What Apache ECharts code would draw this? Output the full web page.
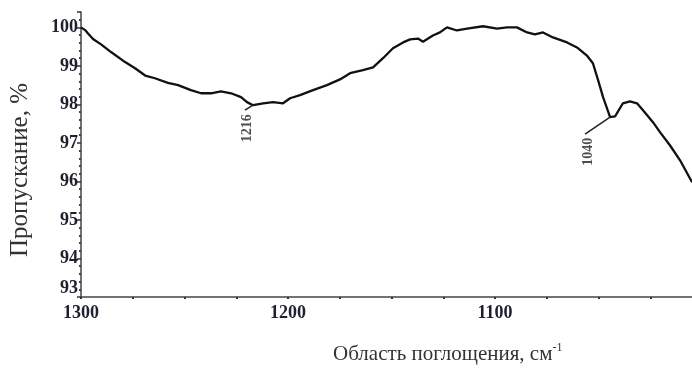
<!DOCTYPE html>
<html><head><meta charset="utf-8">
<script src="https://cdn.jsdelivr.net/npm/echarts@6/dist/echarts.min.js"></script>
<style>html,body{margin:0;padding:0;background:#fff}#c{width:692px;height:371px}</style>
</head><body><div id="c"></div>
<script>
var wavenumbers = [1300,1298,1296.6,1294.2,1290.3,1285.5,1278.7,1273.9,1269,1264.3,1258,1253.1,1246.9,1242,1237.2,1232.4,1227.5,1222.7,1219.8,1216.9,1212,1207.2,1202.4,1199,1194.2,1187.9,1181.2,1174.9,1170,1163.8,1158.9,1154.1,1149.3,1144.4,1141,1137.2,1134.8,1130,1126.6,1123.2,1118.4,1113.5,1105.8,1099,1094.2,1089.4,1084.5,1080.7,1076.8,1072,1065.2,1060.4,1055.6,1052.7,1050.2,1047.8,1044.4,1042,1038.2,1034.8,1031.4,1028.5,1023.7,1020.3,1015.5,1010.6,1004.8];
var transmittance = [100,99.93,99.84,99.7,99.56,99.36,99.1,98.94,98.75,98.68,98.56,98.5,98.37,98.29,98.29,98.34,98.29,98.19,98.06,97.98,98.03,98.06,98.03,98.16,98.24,98.37,98.5,98.65,98.81,98.89,98.96,99.2,99.46,99.61,99.69,99.71,99.63,99.79,99.87,100,99.92,99.97,100.03,99.97,100,100,99.87,99.82,99.87,99.74,99.61,99.48,99.27,99.07,98.63,98.19,97.67,97.69,98.03,98.08,98.03,97.85,97.54,97.28,96.94,96.55,95.98];
var yTicks = [93,94,95,96,97,98,99,100];
var xTickLabels = [1300,1200,1100];
var peakNames = ['1216','1040'];
var peakPos = [[1216.9,97.98],[1044.4,97.67]];
var leaderEnd = [[1220.8,97.85],[1056.5,97.23]];
var labelPos = [[1219.8,97.38],[1055.0,96.77]];

var serif = '"Liberation Serif","DejaVu Serif",serif';
var chart = echarts.init(document.getElementById('c'));
var leaders = peakPos.map(function(p,i){ return [{coord:p},{coord:leaderEnd[i]}]; });
chart.setOption({
  animation:false,
  grid:{left:81, right:-10, top:12, bottom:74, outerBoundsMode:'none', containLabel:false},
  xAxis:{type:'value', inverse:true, min:1000, max:1300, interval:25,
    axisLine:{lineStyle:{color:'#444', width:1.5}},
    axisTick:{show:true, length:2, lineStyle:{color:'#333', width:2}},
    splitLine:{show:false},
    axisLabel:{margin:7, color:'#1e2030', fontFamily:serif, fontWeight:'bold', fontSize:18,
      formatter:function(v){ return xTickLabels.indexOf(v)>=0 ? String(v) : ''; }}
  },
  yAxis:{type:'value', min:93, max:100.4, interval:1,
    axisLine:{show:true, lineStyle:{color:'#444', width:1.5}},
    axisTick:{show:true, length:4, lineStyle:{color:'#333', width:1.5}},
    minorTick:{show:true, splitNumber:5, length:2, lineStyle:{color:'#444', width:2}},
    splitLine:{show:false},
    showMaxLabel:false,
    axisLabel:{margin:3, color:'#1e2030', fontFamily:serif, fontWeight:'bold', fontSize:18,
      formatter:function(v){ if(yTicks.indexOf(v)<0) return ''; return v===93 ? '{u|93}' : String(v); },
      rich:{u:{fontFamily:serif, fontWeight:'bold', fontSize:18, color:'#1e2030', padding:[0,0,18,0]}}}
  },
  graphic:[
    {type:'text', x:20, y:170, rotation:Math.PI/2,
      style:{text:'Пропускание, %', font:'25px '+serif, fill:'#333', align:'center', verticalAlign:'middle'}},
    {type:'text', left:333, top:342,
      style:{rich:{a:{font:'21px '+serif, fill:'#333'}, s:{font:'12px '+serif, fill:'#333', verticalAlign:'top', padding:[0,0,12,0]}},
        text:'{a|Область поглощения, см}{s|-1}'}}
  ],
  series:[
    {type:'line', data:wavenumbers.map(function(w,i){return [w, transmittance[i]];}),
      showSymbol:false, lineStyle:{color:'#111', width:2.3}, clip:false,
      markLine:{silent:true, symbol:['none','none'], label:{show:false},
        lineStyle:{color:'#222', width:1.5, type:'solid'}, data:leaders}},
    {type:'scatter', data:labelPos, symbolSize:0,
      label:{show:true, position:'inside', rotate:90, fontFamily:serif, fontWeight:'bold', fontSize:14, color:'#222',
        formatter:function(p){ return peakNames[p.dataIndex]; }}}
  ]
});
</script></body></html>
